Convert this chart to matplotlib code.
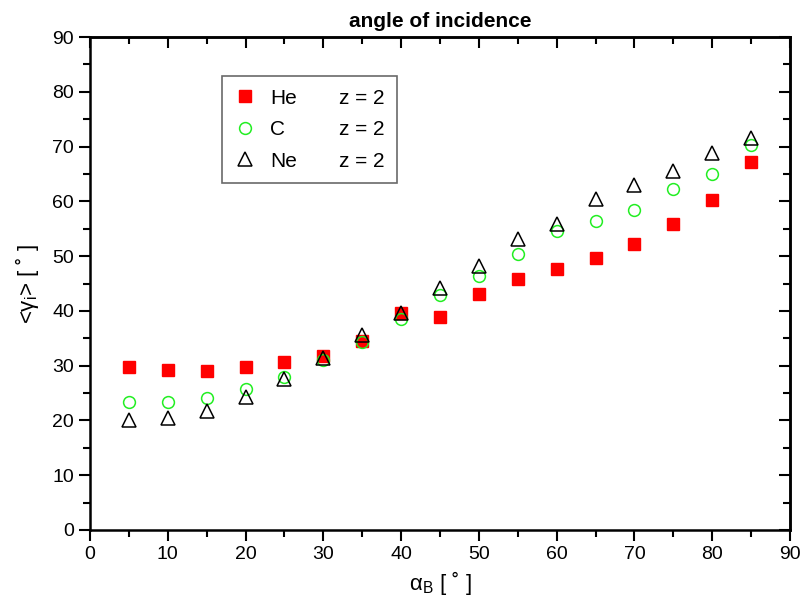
import numpy as np
import matplotlib
matplotlib.use('Agg')
import matplotlib.pyplot as plt
from matplotlib.lines import Line2D
from matplotlib.ticker import MultipleLocator

plt.rcParams['font.family'] = ['Liberation Sans', 'DejaVu Sans']
plt.rcParams['mathtext.fontset'] = 'custom'
plt.rcParams['mathtext.rm'] = 'Liberation Sans'

# beam angle alpha_B and mean angle of incidence for each ion
alpha_b = [5, 10, 15, 20, 25, 30, 35, 40, 45, 50, 55, 60, 65, 70, 75, 80, 85]
gamma_he = [29.8, 29.2, 29.1, 29.7, 30.6, 31.8, 34.5, 39.6, 38.9, 43.0, 45.8, 47.6,
            49.7, 52.3, 55.9, 60.3, 67.2]
gamma_c = [23.4, 23.3, 24.1, 25.7, 28.0, 31.0, 34.3, 38.5, 42.9, 46.4, 50.4, 54.5,
           56.5, 58.4, 62.2, 65.0, 70.3]
gamma_ne = [20.0, 20.4, 21.8, 24.2, 27.6, 31.4, 35.6, 39.6, 44.1, 48.2, 53.1, 55.8,
            60.4, 62.9, 65.6, 68.8, 71.5]
ions = ['He', 'C', 'Ne']
charge = 'z = 2'

fig = plt.figure(figsize=(8.04, 5.99), dpi=100)
ax = fig.add_axes([0.112, 0.1152, 0.8706, 0.823])

h1, = ax.plot(alpha_b, gamma_he, 's', color='#ff0000', ms=8, mec='#ff0000', label=ions[0])
h2, = ax.plot(alpha_b, gamma_c, 'o', mfc='none', mec='#22ee22', ms=8.5, mew=1.1, label=ions[1])
h3, = ax.plot(alpha_b, gamma_ne, '^', mfc='none', mec='black', ms=10, mew=1.1, label=ions[2])

ax.set_xlim(0, 90)
ax.set_ylim(0, 90)
ax.xaxis.set_major_locator(MultipleLocator(10))
ax.xaxis.set_minor_locator(MultipleLocator(5))
ax.yaxis.set_major_locator(MultipleLocator(10))
ax.yaxis.set_minor_locator(MultipleLocator(5))

ax.tick_params(which='both', direction='out', labelsize=14, width=1.5)
ax.tick_params(which='major', length=8)
ax.tick_params(which='minor', length=5)

# inward ticks along top and right edges
sec_x = ax.secondary_xaxis('top')
sec_x.xaxis.set_major_locator(MultipleLocator(10))
sec_x.xaxis.set_minor_locator(MultipleLocator(5))
sec_x.tick_params(which='both', direction='in', labeltop=False, width=1.5)
sec_x.tick_params(which='major', length=8)
sec_x.tick_params(which='minor', length=5)
sec_y = ax.secondary_yaxis('right')
sec_y.yaxis.set_major_locator(MultipleLocator(10))
sec_y.yaxis.set_minor_locator(MultipleLocator(5))
sec_y.tick_params(which='both', direction='in', labelright=False, width=1.5)
sec_y.tick_params(which='major', length=8)
sec_y.tick_params(which='minor', length=5)

for s in ax.spines.values():
    s.set_linewidth(1.8)
for s in sec_x.spines.values():
    s.set_linewidth(1.8)
for s in sec_y.spines.values():
    s.set_linewidth(1.8)

ax.set_title('angle of incidence', fontsize=15, fontweight='bold', pad=7)
ax.set_xlabel('α$_\\mathregular{B}$ [ ˚ ]', fontsize=16, labelpad=4)
ax.set_ylabel('<γ$_\\mathregular{i}$> [ ˚ ]', fontsize=16, labelpad=8)

blank = Line2D([], [], linestyle='none')
leg = ax.legend([h1, h2, h3, blank, blank, blank],
                ions + [charge] * 3,
                ncol=2, loc='upper left', bbox_to_anchor=(0.174, 0.942),
                fontsize=15, frameon=True, fancybox=False, edgecolor='#444444',
                handlelength=1.0, handletextpad=0.7, columnspacing=0.3,
                labelspacing=0.6, borderpad=0.6)
leg.get_frame().set_linewidth(1.2)

fig.savefig('out.png', dpi=100)
